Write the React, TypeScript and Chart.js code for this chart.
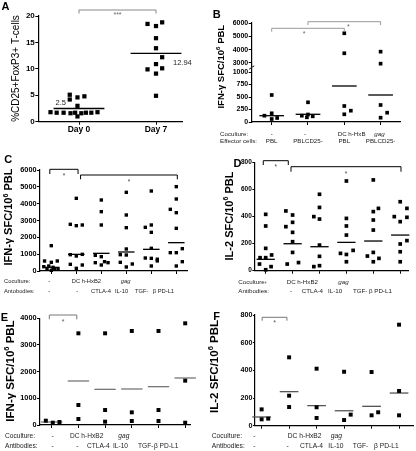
import React, { useEffect, useRef } from "react";
import { Chart, registerables } from "chart.js";

Chart.register(...registerables);

// ================= DATA =================
// Panel A: %CD25+FoxP3+ T-cells
const aCategories = ["Day 0", "Day 7"];
const aDay0 = [1.8, 1.7, 1.7, 1.6, 1.7, 1.0, 1.6, 1.7, 1.7, 1.8, 5.1, 4.2, 4.6, 4.8, 3.0];
const aDay0Jitter = [-0.37, -0.29, -0.2, -0.11, -0.05, -0.02, 0.03, 0.09, 0.16, 0.24, -0.12, -0.12, -0.02, 0.07, -0.02];
const aDay7 = [18.5, 18.1, 18.8, 15.8, 13.9, 12.2, 10.9, 9.9, 9.1, 10.1, 4.9];
const aDay7Jitter = [-0.11, 0, 0.08, 0, 0, 0.08, 0, -0.11, 0, 0.08, 0];
const aMeans = [2.5, 12.94];
const aMeanLabels = ["2.5", "12.94"];
const aTicks = [0, 5, 10, 15, 20];

// Panel B: IFN-g SFC/10^6 PBL (broken axis)
const bCoculture = ["-", "-", "DC h-HxB", "gag"];
const bEffector = ["PBL", "PBLCD25-", "PBL", "PBLCD25-"];
const bValues = [
  [540, 174, 126, 60, 80],
  [394, 126, 94, 114, 150],
  [5230, 3730, 320, 226, 154],
  [3850, 2950, 340, 186, 86],
];
const bJitter = [
  [0, 0, -0.2, 0, 0.15],
  [0, -0.17, -0.03, 0.13, 0],
  [0, 0, 0, 0.18, 0],
  [0, 0, 0, 0.18, 0],
];
const bLines = [126, 154, 720, 540];
const bUpperTicks = [3000, 4000, 5000, 6000];
const bLowerTicks = [0, 250, 500, 750, 1000];

// Shared row labels for C-F
const cdefCoculture = ["-", "DC h-HxB2", "gag"];
const cdefAntibodies = ["-", "-", "CTLA-4", "IL-10", "TGF-", "\u03b2 PD-L1"];
const cHeaders = ["Coculture:", "Antobodies:"];
const defHeaders = ["Coculture:", "Antibodies:"];

// Panel C: IFN-g
const cValues = [
  [1505, 594, 515, 594, 257, 297, 218, 139, 119, 99, 40],
  [4317, 2772, 2693, 2733, 970, 891, 990, 396, 158, 356],
  [4218, 3525, 2733, 931, 851, 495, 356, 554, 495],
  [4673, 3327, 2574, 1307, 970, 950, 515, 238, 416],
  [4752, 2594, 2733, 2297, 1347, 772, 752, 700, 600, 297],
  [5010, 4277, 3663, 3465, 2535, 1089, 1089, 1327, 554, 297],
];
const cJitter = [
  [0, -0.27, 0, 0.24, -0.3, -0.1, 0.07, -0.17, 0.13, 0.27, 0],
  [0, -0.24, 0, 0.24, -0.24, 0, 0.24, -0.24, 0, 0.24],
  [0, 0, 0, -0.24, 0, -0.24, 0, 0.13, 0.27],
  [0, 0, 0, 0, -0.24, 0, -0.24, 0, 0.24],
  [0, -0.24, 0, 0, 0, -0.24, 0, 0.24, 0.24, 0],
  [0, 0, -0.24, 0, 0, -0.24, 0, 0.24, 0.24, 0],
];
const cLines = [218, 990, 1050, 1129, 1287, 1683];
const cTicks = [0, 1000, 2000, 3000, 4000, 5000, 6000];

// Panel D: IL-2
const dValues = [
  [416, 330, 165, 96, 96, 116, 49, 30, 7],
  [441, 411, 357, 283, 325, 214, 135, 49, 60],
  [564, 467, 399, 381, 189, 106, 37, 30],
  [662, 386, 330, 263, 128, 120, 150, 66],
  [670, 460, 436, 374, 300, 108, 135, 66, 91],
  [509, 460, 399, 394, 362, 222, 197, 140, 66],
];
const dJitter = [
  [0, 0, 0, -0.21, 0, 0.22, -0.23, 0.2, 0],
  [-0.25, 0, 0, 0, -0.25, 0, 0, -0.2, 0.22],
  [0, 0, -0.21, 0, 0, 0, 0, -0.21],
  [0, 0, 0, 0, -0.22, 0, 0.25, 0],
  [0, 0.19, 0, 0, 0, -0.22, 0, 0, 0.21],
  [0, 0.25, -0.22, 0.25, 0, 0.25, 0, 0, 0],
];
const dLines = [84, 199, 177, 209, 219, 263];
const dTicks = [0, 200, 400, 600, 800];

// Panel E: IFN-g
const eValues = [
  [162, 87, 112],
  [3437, 750, 225],
  [3437, 562, 125],
  [3525, 475, 150],
  [3525, 562, 150],
  [3812, 1662, 87],
];
const eJitter = [
  [-0.22, 0.04, 0.29],
  [0, 0, 0],
  [0, 0, 0],
  [0, 0, 0],
  [0, 0, 0],
  [0, 0, 0],
];
const eLines = [112, 1650, 1337, 1350, 1437, 1762];
const eTicks = [0, 1000, 2000, 3000, 4000];

// Panel F: IL-2
const fValues = [
  [118, 46, 51],
  [494, 217, 135],
  [412, 133, 56],
  [390, 80, 41],
  [388, 97, 75],
  [730, 251, 75],
];
const fJitter = [
  [0, 0, 0.24],
  [0, 0, 0],
  [0, 0, 0],
  [0, 0.24, 0],
  [0, 0.24, 0],
  [0, 0, 0],
];
const fLines = [63, 246, 145, 108, 140, 236];
const fTicks = [0, 200, 400, 600, 800];

// ================= DRAW HELPERS =================
const FONT = '"Liberation Sans", Arial, Helvetica, sans-serif';

function font(size: number, bold = false, italic = false) {
  return `${italic ? "italic " : ""}${bold ? "bold " : ""}${size}px ${FONT}`;
}

function txt(
  ctx: CanvasRenderingContext2D,
  s: string,
  x: number,
  y: number,
  size: number,
  o: { bold?: boolean; italic?: boolean; align?: CanvasTextAlign; color?: string } = {}
) {
  ctx.font = font(size, o.bold, o.italic);
  ctx.fillStyle = o.color ?? "#111";
  ctx.textAlign = o.align ?? "left";
  ctx.textBaseline = "alphabetic";
  ctx.fillText(s, x, y + size * 0.36);
}

function star(ctx: CanvasRenderingContext2D, s: string, x: number, y: number, size: number, color = "#333") {
  ctx.font = font(size);
  ctx.fillStyle = color;
  ctx.textAlign = "center";
  ctx.textBaseline = "alphabetic";
  ctx.fillText(s, x, y + size * 0.57);
}

function vtitle(
  ctx: CanvasRenderingContext2D,
  parts: { t: string; sup?: boolean }[],
  cx: number,
  cy: number,
  size: number,
  bold: boolean
) {
  ctx.save();
  ctx.translate(cx, cy);
  ctx.rotate(-Math.PI / 2);
  let total = 0;
  const ws = parts.map((p) => {
    ctx.font = font(p.sup ? size * 0.65 : size, bold);
    const w = ctx.measureText(p.t).width;
    total += w;
    return w;
  });
  let x = -total / 2;
  parts.forEach((p, i) => {
    ctx.font = font(p.sup ? size * 0.65 : size, bold);
    ctx.fillStyle = "#000";
    ctx.textAlign = "left";
    ctx.textBaseline = "alphabetic";
    ctx.fillText(p.t, x, size * 0.36 - (p.sup ? size * 0.42 : 0));
    x += ws[i];
  });
  ctx.restore();
}

function bracket(ctx: CanvasRenderingContext2D, x1: number, x2: number, yTop: number, yEnd: number, color: string) {
  ctx.save();
  ctx.strokeStyle = color;
  ctx.lineWidth = 1;
  ctx.beginPath();
  ctx.moveTo(x1, yEnd);
  ctx.lineTo(x1, yTop);
  ctx.lineTo(x2, yTop);
  ctx.lineTo(x2, yEnd);
  ctx.stroke();
  ctx.restore();
}

const ifnTitle = [{ t: "IFN-\u03b3 SFC/10" }, { t: "6", sup: true }, { t: " PBL" }];
const il2Title = [{ t: "IL-2 SFC/10" }, { t: "6", sup: true }, { t: " PBL" }];

type RowLayout = {
  y1: number;
  y2: number;
  size: number;
  headX: number;
  coX: [number, CanvasTextAlign][];
  abX: [number, CanvasTextAlign][];
};

function drawRows(ctx: CanvasRenderingContext2D, headers: string[], L: RowLayout) {
  txt(ctx, headers[0], L.headX, L.y1, L.size, { color: "#222" });
  txt(ctx, headers[1], L.headX, L.y2, L.size, { color: "#222" });
  cdefCoculture.forEach((s, i) =>
    txt(ctx, s, L.coX[i][0], L.y1, L.size, { align: L.coX[i][1], italic: s === "gag", color: "#222" })
  );
  cdefAntibodies.forEach((s, i) => txt(ctx, s, L.abX[i][0], L.y2, L.size, { align: L.abX[i][1], color: "#222" }));
}

type XY = (v: number) => number;

// ================= PANEL SPECS =================
type Spec = {
  key: string;
  box: [number, number, number, number];
  area: [number, number, number, number];
  c0: number;
  unit: number;
  n: number;
  yMin: number;
  yMax: number;
  yTicks: number[];
  tickSize: number;
  tickLen?: number;
  values: number[][];
  jitter: number[][];
  lines: number[];
  lineHalf: number;
  lineColor: string;
  radius: number;
  showX: boolean;
  keep?: (v: number) => boolean;
  extras?: (ctx: CanvasRenderingContext2D, X: XY, Y: XY) => void;
};

const specs: Spec[] = [
  {
    key: "A",
    box: [0, 0, 205, 145],
    area: [38.3, 16, 182, 121.7],
    c0: 79,
    unit: 77,
    n: 2,
    yMin: 0,
    yMax: 20,
    yTicks: aTicks,
    tickSize: 8,
    values: [aDay0, aDay7],
    jitter: [aDay0Jitter, aDay7Jitter],
    lines: aMeans,
    lineHalf: 0.33,
    lineColor: "#000",
    radius: 3,
    showX: true,
    extras: (ctx, X, Y) => {
      txt(ctx, "A", 5.5, 6.5, 11, { bold: true, align: "center", color: "#000" });
      vtitle(ctx, [{ t: "%CD25+FoxP3+ T-cells" }], 15.3, 68.5, 10, false);
      aCategories.forEach((c, i) => txt(ctx, c, X(i), 128.5, 8.5, { bold: true, align: "center", color: "#000" }));
      bracket(ctx, X(0), X(1), 10, 13.5, "#888");
      star(ctx, "***", (X(0) + X(1)) / 2, 13, 7, "#666");
      txt(ctx, aMeanLabels[0], 55.5, Y(aMeans[0]) - 6.5, 7.5, { color: "#222" });
      txt(ctx, aMeanLabels[1], 173, Y(aMeans[1]) + 8.5, 7.5, { color: "#222" });
    },
  },
  {
    key: "Bu",
    box: [205, 0, 211, 150],
    area: [251.7, 23, 400, 66.5],
    c0: 271.7,
    unit: 36.3,
    n: 4,
    yMin: 2737,
    yMax: 6000,
    yTicks: bUpperTicks,
    tickSize: 7,
    values: bValues,
    jitter: bJitter,
    lines: bLines,
    lineHalf: 0.34,
    lineColor: "#000",
    radius: 2.6,
    showX: false,
    keep: (v) => v > 1070,
    extras: (ctx, X) => {
      bracket(ctx, X(0), X(2), 28.3, 31.7, "#999");
      star(ctx, "*", (X(0) + X(2)) / 2 - 4, 32, 7, "#666");
      bracket(ctx, X(1), X(3), 21.7, 25, "#999");
      star(ctx, "*", (X(1) + X(3)) / 2 + 4, 25.5, 7, "#666");
    },
  },
  {
    key: "Bl",
    box: [205, 0, 211, 150],
    area: [251.7, 68.5, 400, 122],
    c0: 271.7,
    unit: 36.3,
    n: 4,
    yMin: 0,
    yMax: 1070,
    yTicks: bLowerTicks,
    tickSize: 7,
    values: bValues,
    jitter: bJitter,
    lines: bLines,
    lineHalf: 0.34,
    lineColor: "#000",
    radius: 2.6,
    showX: true,
    keep: (v) => v <= 1070,
    extras: (ctx, X) => {
      txt(ctx, "B", 216.7, 14, 11, { bold: true, align: "center", color: "#000" });
      vtitle(ctx, ifnTitle, 221, 66.7, 9.5, true);
      // axis break mark
      ctx.save();
      ctx.strokeStyle = "#000";
      ctx.lineWidth = 1;
      ctx.beginPath();
      ctx.moveTo(249.2, 69.2);
      ctx.lineTo(254.2, 65.8);
      ctx.stroke();
      ctx.restore();
      const size = 6.2;
      txt(ctx, "Coculture:", 220, 133.5, size, { color: "#222" });
      txt(ctx, bCoculture[0], X(0), 133.5, size, { align: "center", color: "#222" });
      txt(ctx, bCoculture[1], X(1) - 3, 133.5, size, { align: "center", color: "#222" });
      txt(ctx, bCoculture[2], 337.7, 133.5, size, { color: "#222" });
      txt(ctx, bCoculture[3], 374.3, 133.5, size, { italic: true, color: "#222" });
      txt(ctx, "Effector cells:", 220, 140.7, size, { color: "#222" });
      bEffector.forEach((s, i) => txt(ctx, s, X(i), 140.7, size, { align: "center", color: "#222" }));
    },
  },
  {
    key: "C",
    box: [0, 145, 205, 155],
    area: [40, 170, 187, 271],
    c0: 51.3,
    unit: 25,
    n: 6,
    yMin: 0,
    yMax: 6000,
    yTicks: cTicks,
    tickSize: 7.3,
    values: cValues,
    jitter: cJitter,
    lines: cLines,
    lineHalf: 0.33,
    lineColor: "#000",
    radius: 2.4,
    showX: true,
    extras: (ctx, X) => {
      txt(ctx, "C", 8.3, 159, 11, { bold: true, align: "center", color: "#000" });
      vtitle(ctx, ifnTitle, 8.5, 217, 11, true);
      bracket(ctx, X(-0.06), X(1.07), 169.3, 174, "#000");
      star(ctx, "*", (X(-0.06) + X(1.07)) / 2, 174.5, 6.5, "#444");
      bracket(ctx, X(1.17), X(5.04), 175, 179.3, "#000");
      star(ctx, "*", (X(1.17) + X(5.04)) / 2, 180, 6.5, "#444");
      drawRows(ctx, cHeaders, {
        y1: 281,
        y2: 290.7,
        size: 5.8,
        headX: 4,
        coX: [
          [49.3, "center"],
          [71.7, "left"],
          [120.7, "left"],
        ],
        abX: [
          [49.3, "center"],
          [77.3, "center"],
          [91, "left"],
          [115, "left"],
          [135, "left"],
          [152.7, "left"],
        ],
      });
    },
  },
  {
    key: "D",
    box: [205, 145, 211, 155],
    area: [254.3, 162.3, 408, 270.7],
    c0: 265.7,
    unit: 26.9,
    n: 6,
    yMin: 0,
    yMax: 800,
    yTicks: dTicks,
    tickSize: 6.5,
    tickLen: 2,
    values: dValues,
    jitter: dJitter,
    lines: dLines,
    lineHalf: 0.34,
    lineColor: "#000",
    radius: 2.6,
    showX: true,
    extras: (ctx, X) => {
      txt(ctx, "D", 237.5, 163.3, 11, { bold: true, align: "center", color: "#000" });
      vtitle(ctx, il2Title, 229, 216, 11, true);
      bracket(ctx, X(-0.09), X(0.84), 160.7, 165, "#000");
      star(ctx, "*", (X(-0.09) + X(0.84)) / 2, 165.5, 6.5, "#444");
      bracket(ctx, X(0.94), X(5.03), 166.7, 171.7, "#000");
      star(ctx, "*", (X(0.94) + X(5.03)) / 2, 172, 6.5, "#444");
      drawRows(ctx, defHeaders, {
        y1: 281.7,
        y2: 290.7,
        size: 6.2,
        headX: 238.3,
        coX: [
          [265.7, "center"],
          [286.7, "left"],
          [338.3, "left"],
        ],
        abX: [
          [265.7, "center"],
          [291, "center"],
          [301.7, "left"],
          [328, "left"],
          [353, "left"],
          [369, "left"],
        ],
      });
    },
  },
  {
    key: "E",
    box: [0, 300, 205, 151],
    area: [40, 318.3, 190, 425],
    c0: 51.7,
    unit: 26.7,
    n: 6,
    yMin: 0,
    yMax: 4000,
    yTicks: eTicks,
    tickSize: 7.3,
    values: eValues,
    jitter: eJitter,
    lines: eLines,
    lineHalf: 0.4,
    lineColor: "#777",
    radius: 2.8,
    showX: true,
    extras: (ctx, X) => {
      txt(ctx, "E", 4.5, 317.5, 11, { bold: true, align: "center", color: "#000" });
      vtitle(ctx, ifnTitle, 9.5, 371, 11.5, true);
      bracket(ctx, X(-0.09), X(0.94), 315, 319.3, "#777");
      star(ctx, "*", (X(-0.09) + X(0.94)) / 2, 320.5, 7, "#555");
      drawRows(ctx, defHeaders, {
        y1: 436,
        y2: 445.7,
        size: 6.6,
        headX: 5,
        coX: [
          [52.7, "center"],
          [70, "left"],
          [118.3, "left"],
        ],
        abX: [
          [52.7, "center"],
          [77.3, "center"],
          [87, "left"],
          [113, "left"],
          [138, "left"],
          [154, "left"],
        ],
      });
    },
  },
  {
    key: "F",
    box: [205, 300, 211, 151],
    area: [255, 315, 415, 425.7],
    c0: 261.7,
    unit: 27.8,
    n: 6,
    yMin: 0,
    yMax: 800,
    yTicks: fTicks,
    tickSize: 7.2,
    tickLen: 2,
    values: fValues,
    jitter: fJitter,
    lines: fLines,
    lineHalf: 0.34,
    lineColor: "#555",
    radius: 2.8,
    showX: true,
    extras: (ctx, X) => {
      txt(ctx, "F", 216.7, 316, 11, { bold: true, align: "center", color: "#000" });
      vtitle(ctx, il2Title, 214, 366.5, 11.5, true);
      bracket(ctx, X(0.02), X(0.92), 317.3, 320.7, "#777");
      star(ctx, "*", (X(0.02) + X(0.92)) / 2, 321.5, 7, "#555");
      drawRows(ctx, defHeaders, {
        y1: 436,
        y2: 446,
        size: 6.7,
        headX: 211.7,
        coX: [
          [254.3, "center"],
          [287.7, "left"],
          [330.7, "left"],
        ],
        abX: [
          [254.3, "center"],
          [287.7, "center"],
          [300, "left"],
          [328.3, "left"],
          [352.7, "left"],
          [374, "left"],
        ],
      });
    },
  },
];

// ================= CHART BUILD =================
function buildChart(canvas: HTMLCanvasElement, s: Spec) {
  const [L, T, W, H] = s.box;
  const [al, at, ar, ab] = s.area;
  const keep = s.keep ?? (() => true);
  const pts: { x: number; y: number }[] = [];
  s.values.forEach((g, gi) =>
    g.forEach((v, i) => {
      if (keep(v)) pts.push({ x: gi + (s.jitter[gi]?.[i] ?? 0), y: v });
    })
  );
  const lineSets = s.lines.map((m, gi) => ({
    type: "scatter",
    data: keep(m) ? [{ x: gi - s.lineHalf, y: m }, { x: gi + s.lineHalf, y: m }] : [],
    showLine: true,
    borderColor: s.lineColor,
    borderWidth: 1.3,
    pointRadius: 0,
    pointHoverRadius: 0,
    clip: false,
  }));
  const groupIdx = Array.from({ length: s.n }, (_, i) => i);
  const tl = s.tickLen ?? 3;

  const cfg: any = {
    type: "scatter",
    data: {
      datasets: [
        {
          type: "scatter",
          data: pts,
          pointStyle: "rect",
          pointRadius: s.radius,
          pointHoverRadius: s.radius,
          backgroundColor: "#000",
          borderColor: "#000",
          borderWidth: 0,
          clip: false,
        },
        ...lineSets,
      ],
    },
    options: {
      animation: false,
      responsive: false,
      devicePixelRatio: 1,
      events: [],
      layout: {
        padding: { left: 0, top: at - T, right: L + W - ar, bottom: 0 },
      },
      plugins: { legend: { display: false }, tooltip: { enabled: false }, title: { display: false } },
      scales: {
        x: {
          type: "linear",
          display: true,
          min: (al - s.c0) / s.unit,
          max: (ar - s.c0) / s.unit,
          afterBuildTicks: (sc: any) => {
            sc.ticks = groupIdx.map((v) => ({ value: v }));
          },
          afterFit: (sc: any) => {
            sc.height = T + H - ab;
          },
          ticks: { display: false },
          grid: {
            display: s.showX,
            drawOnChartArea: false,
            drawTicks: true,
            tickLength: 3,
            color: "#000",
            lineWidth: 1,
          },
          border: { display: s.showX, color: "#000", width: 1.2 },
        },
        y: {
          type: "linear",
          min: s.yMin,
          max: s.yMax,
          afterBuildTicks: (sc: any) => {
            sc.ticks = s.yTicks.map((v) => ({ value: v }));
          },
          afterFit: (sc: any) => {
            sc.width = al - L;
          },
          ticks: {
            color: "#000",
            padding: 0.5,
            font: { family: FONT, size: s.tickSize, weight: "bold" },
            callback: (v: any) => String(v),
          },
          grid: { display: true, drawOnChartArea: false, drawTicks: true, tickLength: tl, color: "#000", lineWidth: 1 },
          border: { display: true, color: "#000", width: 1.2 },
        },
      },
    },
    plugins: [
      {
        id: "extras",
        afterDraw(chart: any) {
          if (!s.extras) return;
          const ctx = chart.ctx as CanvasRenderingContext2D;
          ctx.save();
          ctx.translate(-L, -T);
          const X = (v: number) => chart.scales.x.getPixelForValue(v) + L;
          const Y = (v: number) => chart.scales.y.getPixelForValue(v) + T;
          s.extras(ctx, X, Y);
          ctx.restore();
        },
      },
    ],
  };
  return new Chart(canvas, cfg);
}

function ChartCanvas({ spec }: { spec: Spec }) {
  const ref = useRef<HTMLCanvasElement>(null);
  useEffect(() => {
    const chart = buildChart(ref.current as HTMLCanvasElement, spec);
    return () => chart.destroy();
  }, [spec]);
  const [L, T, W, H] = spec.box;
  return (
    <canvas
      ref={ref}
      width={W}
      height={H}
      style={{ position: "absolute", left: L, top: T, width: W, height: H }}
    />
  );
}

export default function App() {
  return (
    <div
      style={{
        position: "absolute",
        left: 0,
        top: 0,
        width: 416,
        height: 451,
        background: "#fff",
        overflow: "hidden",
      }}
    >
      {specs.map((s) => (
        <ChartCanvas key={s.key} spec={s} />
      ))}
    </div>
  );
}
